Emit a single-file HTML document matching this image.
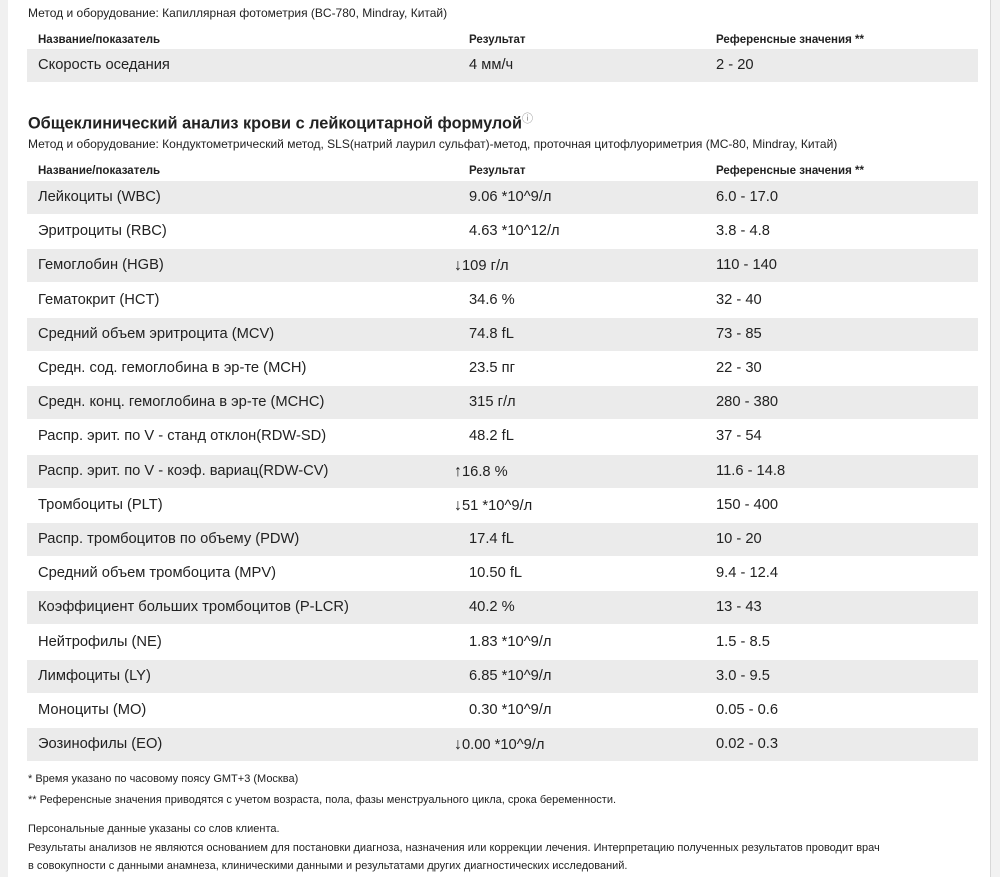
<!DOCTYPE html>
<html><head><meta charset="utf-8"><style>
body{margin:0;width:1000px;height:877px;background:#fff;position:relative;overflow:hidden;font-family:"Liberation Sans",sans-serif;color:#222}
.ls{position:absolute;left:0;top:0;width:8px;height:877px;background:#f0f0f0}
.rs{position:absolute;left:990px;top:0;width:10px;height:877px;background:#f2f2f2;border-left:1px solid #d8d8d8}
.t{position:absolute;white-space:nowrap}
.m{font-size:12px;left:28px}
.h{font-size:11.5px;font-weight:bold}
.row{position:absolute;left:27px;width:951px;height:33px;font-size:14.7px}
.row.g{background:#ebebeb}
.row span{position:absolute;top:8px;white-space:nowrap}
.a{left:11px}.b{left:442px}.c{left:689px}
.ar{font-size:16px}
.f{font-size:11px;left:28px}
</style></head><body>
<div class="ls"></div><div class="rs"></div>
<div class="t m" style="top:6px">Метод и оборудование: Капиллярная фотометрия (BC-780, Mindray, Китай)</div>
<div class="t h" style="left:38px;top:34px">Название/показатель</div>
<div class="t h" style="left:469px;top:34px">Результат</div>
<div class="t h" style="left:716px;top:34px">Референсные значения **</div>
<div class="row g" style="top:49px"><span class="a">Скорость оседания</span><span class="b">4 мм/ч</span><span class="c">2 - 20</span></div>
<div class="t" style="left:28px;top:110px;font-size:16.3px;font-weight:bold">Общеклинический анализ крови с лейкоцитарной формулой<sup style="font-weight:normal;font-size:11px;color:#888">ⓘ</sup></div>
<div class="t m" style="top:137px">Метод и оборудование: Кондуктометрический метод, SLS(натрий лаурил сульфат)-метод, проточная цитофлуориметрия (MC-80, Mindray, Китай)</div>
<div class="t h" style="left:38px;top:165px">Название/показатель</div>
<div class="t h" style="left:469px;top:165px">Результат</div>
<div class="t h" style="left:716px;top:165px">Референсные значения **</div>
<div class="row g" style="top:181px"><span class="a">Лейкоциты (WBC)</span><span class="b">9.06 *10^9/л</span><span class="c">6.0 - 17.0</span></div>
<div class="row" style="top:215px"><span class="a">Эритроциты (RBC)</span><span class="b">4.63 *10^12/л</span><span class="c">3.8 - 4.8</span></div>
<div class="row g" style="top:249px"><span class="a">Гемоглобин (HGB)</span><span class="b" style="left:427px"><span class="ar" style="position:static">↓</span>109 г/л</span><span class="c">110 - 140</span></div>
<div class="row" style="top:284px"><span class="a">Гематокрит (HCT)</span><span class="b">34.6 %</span><span class="c">32 - 40</span></div>
<div class="row g" style="top:318px"><span class="a">Средний объем эритроцита (MCV)</span><span class="b">74.8 fL</span><span class="c">73 - 85</span></div>
<div class="row" style="top:352px"><span class="a">Средн. сод. гемоглобина в эр-те (MCH)</span><span class="b">23.5 пг</span><span class="c">22 - 30</span></div>
<div class="row g" style="top:386px"><span class="a">Средн. конц. гемоглобина в эр-те (MCHC)</span><span class="b">315 г/л</span><span class="c">280 - 380</span></div>
<div class="row" style="top:420px"><span class="a">Распр. эрит. по V - станд отклон(RDW-SD)</span><span class="b">48.2 fL</span><span class="c">37 - 54</span></div>
<div class="row g" style="top:455px"><span class="a">Распр. эрит. по V - коэф. вариац(RDW-CV)</span><span class="b" style="left:427px"><span class="ar" style="position:static">↑</span>16.8 %</span><span class="c">11.6 - 14.8</span></div>
<div class="row" style="top:489px"><span class="a">Тромбоциты (PLT)</span><span class="b" style="left:427px"><span class="ar" style="position:static">↓</span>51 *10^9/л</span><span class="c">150 - 400</span></div>
<div class="row g" style="top:523px"><span class="a">Распр. тромбоцитов по объему (PDW)</span><span class="b">17.4 fL</span><span class="c">10 - 20</span></div>
<div class="row" style="top:557px"><span class="a">Средний объем тромбоцита (MPV)</span><span class="b">10.50 fL</span><span class="c">9.4 - 12.4</span></div>
<div class="row g" style="top:591px"><span class="a">Коэффициент больших тромбоцитов (P-LCR)</span><span class="b">40.2 %</span><span class="c">13 - 43</span></div>
<div class="row" style="top:626px"><span class="a">Нейтрофилы (NE)</span><span class="b">1.83 *10^9/л</span><span class="c">1.5 - 8.5</span></div>
<div class="row g" style="top:660px"><span class="a">Лимфоциты (LY)</span><span class="b">6.85 *10^9/л</span><span class="c">3.0 - 9.5</span></div>
<div class="row" style="top:694px"><span class="a">Моноциты (MO)</span><span class="b">0.30 *10^9/л</span><span class="c">0.05 - 0.6</span></div>
<div class="row g" style="top:728px"><span class="a">Эозинофилы (EO)</span><span class="b" style="left:427px"><span class="ar" style="position:static">↓</span>0.00 *10^9/л</span><span class="c">0.02 - 0.3</span></div>
<div class="t f" style="top:773px">* Время указано по часовому поясу GMT+3 (Москва)</div>
<div class="t f" style="top:794px">** Референсные значения приводятся с учетом возраста, пола, фазы менструального цикла, срока беременности.</div>
<div class="t f" style="top:823px">Персональные данные указаны со слов клиента.</div>
<div class="t f" style="top:842px">Результаты анализов не являются основанием для постановки диагноза, назначения или коррекции лечения. Интерпретацию полученных результатов проводит врач</div>
<div class="t f" style="top:860px">в совокупности с данными анамнеза, клиническими данными и результатами других диагностических исследований.</div>
</body></html>
